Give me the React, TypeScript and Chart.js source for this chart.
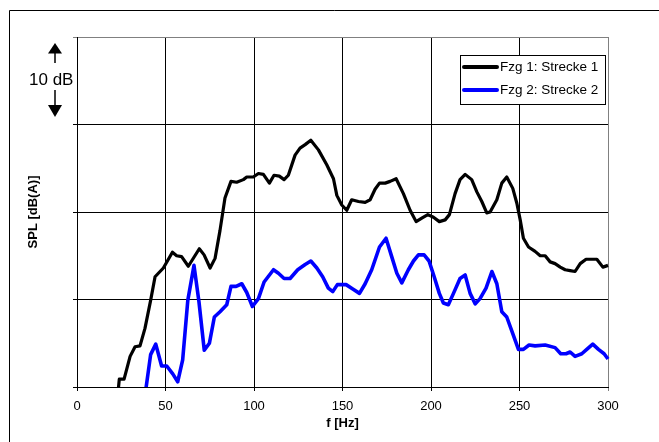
import React, { useEffect, useRef } from "react";
import { Chart, registerables } from "chart.js";

Chart.register(...registerables);

// ---- data ----
const seriesLabels = ["Fzg 1: Strecke 1", "Fzg 2: Strecke 2"];
const seriesColors = ["#000000", "#0000FF"];

const freq1 = [23.0, 23.9, 26.6, 30.0, 32.8, 35.6, 38.4, 41.6, 44.1, 48.8, 53.9, 56.3, 59.1, 62.9, 69.1, 71.8, 75.2, 78.0, 80.8, 83.6, 87.0, 90.2, 94.0, 95.9, 99.6, 102.5, 105.3, 108.7, 111.3, 114.3, 117.0, 119.4, 123.2, 126.0, 128.9, 132.1, 136.4, 141.1, 144.9, 146.8, 149.6, 152.4, 155.2, 159.0, 162.8, 165.6, 168.4, 170.9, 174.1, 176.9, 180.3, 184.4, 188.2, 191.6, 194.8, 198.2, 201.4, 204.7, 208.0, 210.4, 213.6, 216.4, 219.3, 223.0, 225.9, 228.7, 231.5, 233.4, 237.2, 240.0, 242.8, 246.2, 248.5, 250.4, 252.2, 255.1, 258.8, 261.7, 264.5, 267.3, 270.1, 273.0, 275.8, 278.6, 281.4, 284.3, 287.6, 290.9, 293.7, 297.1, 300.0];
const spl1 = [-1.0, 0.9, 0.9, 3.5, 4.6, 4.7, 6.7, 9.9, 12.6, 13.6, 15.4, 15.0, 14.9, 13.8, 15.8, 15.1, 13.6, 14.7, 17.9, 21.6, 23.5, 23.4, 23.7, 24.0, 24.0, 24.4, 24.3, 23.3, 24.2, 24.1, 23.7, 24.2, 26.5, 27.3, 27.7, 28.2, 27.1, 25.4, 23.8, 21.9, 20.8, 20.2, 21.4, 21.2, 21.1, 21.4, 22.6, 23.3, 23.3, 23.5, 23.8, 22.1, 20.2, 18.9, 19.3, 19.7, 19.4, 18.9, 19.1, 19.7, 22.1, 23.7, 24.3, 23.7, 22.3, 21.2, 19.9, 20.0, 21.4, 23.3, 24.0, 22.7, 21.0, 19.1, 17.0, 16.0, 15.5, 15.0, 15.0, 14.3, 14.1, 13.7, 13.4, 13.3, 13.2, 14.1, 14.6, 14.6, 14.6, 13.7, 13.9];

const freq2 = [38.4, 41.6, 44.5, 47.8, 50.7, 54.1, 56.9, 59.7, 62.6, 66.1, 68.9, 71.9, 74.8, 77.6, 80.8, 84.6, 87.0, 89.9, 93.1, 95.9, 99.1, 102.5, 105.7, 111.0, 113.8, 117.0, 120.4, 124.7, 128.9, 132.1, 135.5, 138.8, 142.0, 144.5, 147.1, 152.0, 155.8, 159.6, 162.8, 166.5, 170.9, 174.6, 177.8, 180.7, 183.5, 187.2, 190.1, 192.9, 196.1, 198.9, 201.8, 204.7, 207.0, 209.8, 212.7, 216.4, 219.3, 222.1, 225.0, 227.7, 231.1, 234.4, 237.2, 240.0, 242.8, 246.2, 249.4, 252.2, 255.4, 258.8, 264.5, 270.1, 273.3, 276.3, 278.6, 281.4, 285.2, 288.0, 291.4, 294.6, 297.8, 300.0];
const spl2 = [-1.0, 3.7, 4.9, 2.4, 2.4, 1.5, 0.6, 3.1, 9.9, 13.9, 9.75, 4.2, 5.0, 8.0, 8.6, 9.4, 11.5, 11.5, 11.8, 10.8, 9.2, 10.1, 12.0, 13.4, 13.0, 12.4, 12.4, 13.4, 14.0, 14.4, 13.6, 12.6, 11.3, 10.9, 11.7, 11.7, 11.2, 10.7, 11.8, 13.4, 16.0, 17.0, 14.9, 13.0, 11.9, 13.4, 14.4, 15.1, 15.1, 14.4, 12.6, 10.7, 9.6, 9.4, 10.7, 12.4, 12.8, 10.7, 9.5, 10.1, 11.3, 13.2, 11.8, 8.6, 8.0, 6.1, 4.3, 4.3, 4.8, 4.7, 4.8, 4.5, 3.8, 3.8, 4.0, 3.5, 3.8, 4.3, 4.9, 4.3, 3.8, 3.2];

const xMin = 0;
const xMax = 300;
const xStep = 50;
const yMin = 0;
const yMax = 40;
const yStep = 10;
const xTitle = "f [Hz]";
const yTitle = "SPL [dB(A)]";
const scaleNote = "10 dB";

const FONT = "'Liberation Sans', Arial, sans-serif";

const decorPlugin = {
  id: "decor",
  afterDraw(chart: any) {
    const ctx = chart.ctx as CanvasRenderingContext2D;
    ctx.save();
    // outer frame
    ctx.strokeStyle = "#000";
    ctx.lineWidth = 1;
    ctx.beginPath();
    ctx.moveTo(9.5, 442);
    ctx.lineTo(9.5, 10.5);
    ctx.lineTo(659, 10.5);
    ctx.stroke();

    // 10 dB scale note with arrows
    const ax = 55;
    ctx.fillStyle = "#000";
    ctx.lineWidth = 1.5;
    ctx.beginPath();
    ctx.moveTo(ax, 52);
    ctx.lineTo(ax, 63);
    ctx.moveTo(ax, 90);
    ctx.lineTo(ax, 106);
    ctx.stroke();
    ctx.beginPath();
    ctx.moveTo(ax, 43);
    ctx.lineTo(ax - 7, 53.5);
    ctx.lineTo(ax + 7, 53.5);
    ctx.closePath();
    ctx.fill();
    ctx.beginPath();
    ctx.moveTo(ax, 117);
    ctx.lineTo(ax - 7, 105);
    ctx.lineTo(ax + 7, 105);
    ctx.closePath();
    ctx.fill();
    ctx.font = `17px ${FONT}`;
    ctx.textAlign = "left";
    ctx.textBaseline = "middle";
    ctx.fillText(scaleNote, 29, 80);

    // legend
    const bx = 460, by = 55, bw = 145, bh = 49;
    ctx.fillStyle = "#fff";
    ctx.fillRect(bx, by, bw, bh);
    ctx.strokeStyle = "#000";
    ctx.lineWidth = 1;
    ctx.strokeRect(bx + 0.5, by + 0.5, bw, bh);
    ctx.font = `13.5px ${FONT}`;
    chart.data.datasets.forEach((d: any, i: number) => {
      const y = 67 + i * 23;
      ctx.strokeStyle = d.borderColor;
      ctx.lineWidth = 4;
      ctx.lineCap = "round";
      ctx.beginPath();
      ctx.moveTo(464, y);
      ctx.lineTo(497, y);
      ctx.stroke();
      ctx.fillStyle = "#000";
      ctx.fillText(d.label, 500, y + 0.5);
    });
    ctx.restore();
  },
};

export default function App() {
  const ref = useRef<HTMLCanvasElement>(null);

  useEffect(() => {
    if (!ref.current) return;
    const mk = (fs: number[], vs: number[]) => fs.map((f, i) => ({ x: f, y: vs[i] }));
    const chart = new Chart(ref.current, {
      type: "line",
      data: {
        datasets: [
          {
            label: seriesLabels[0],
            data: mk(freq1, spl1),
            borderColor: seriesColors[0],
            backgroundColor: seriesColors[0],
            borderWidth: 3.2,
            pointRadius: 0,
            tension: 0,
            borderJoinStyle: "round",
            borderCapStyle: "butt",
            clip: { left: 5, top: 5, right: 2, bottom: 0 },
          },
          {
            label: seriesLabels[1],
            data: mk(freq2, spl2),
            borderColor: seriesColors[1],
            backgroundColor: seriesColors[1],
            borderWidth: 3.6,
            pointRadius: 0,
            tension: 0,
            borderJoinStyle: "round",
            borderCapStyle: "butt",
            clip: { left: 5, top: 5, right: 2, bottom: 0 },
          },
        ],
      },
      options: {
        responsive: false,
        animation: false,
        events: [],
        font: { family: FONT },
        layout: { padding: { top: 37, right: 51, left: 0, bottom: 0 } },
        plugins: {
          legend: { display: false },
          tooltip: { enabled: false },
        },
        scales: {
          x: {
            type: "linear",
            min: xMin,
            max: xMax,
            afterFit: (s: any) => {
              s.height = 55;
            },
            ticks: {
              stepSize: xStep,
              autoSkip: false,
              maxRotation: 0,
              color: "#000",
              padding: 8,
              font: { family: FONT, size: 13 },
            },
            grid: {
              color: (c: any) => (c.tick && c.tick.value === xMax ? "#808080" : "#000"),
              lineWidth: 1,
              tickLength: 4,
              drawTicks: true,
            },
            border: { color: "#000", width: 1 },
            title: {
              display: true,
              text: xTitle,
              color: "#000",
              font: { family: FONT, size: 13, weight: "bold" },
              padding: { top: 0, bottom: 11 },
            },
          },
          y: {
            type: "linear",
            min: yMin,
            max: yMax,
            afterFit: (s: any) => {
              s.width = 77;
            },
            ticks: { stepSize: yStep, display: false },
            grid: {
              color: (c: any) => (c.tick && c.tick.value === yMax ? "#808080" : "#000"),
              lineWidth: 1,
              tickLength: 4,
              drawTicks: true,
            },
            border: { color: "#000", width: 1 },
            title: {
              display: true,
              text: yTitle,
              color: "#000",
              font: { family: FONT, size: 13, weight: "bold" },
              padding: { top: 26, bottom: 0 },
            },
          },
        },
      },
      plugins: [decorPlugin],
    } as any);
    return () => chart.destroy();
  }, []);

  return (
    <div style={{ position: "fixed", left: 0, top: 0, width: 659, height: 442, background: "#fff" }}>
      <canvas ref={ref} width={659} height={442} style={{ display: "block" }} />
    </div>
  );
}
